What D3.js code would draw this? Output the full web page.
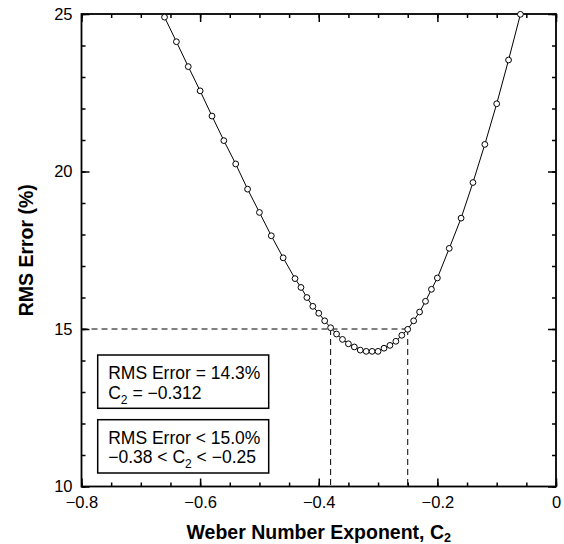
<!DOCTYPE html>
<html><head><meta charset="utf-8">
<script src="https://cdn.jsdelivr.net/npm/d3@7"></script>
<style>
body{margin:0;background:#fff;}
svg text{font-family:"Liberation Sans",Arial,Helvetica,sans-serif;fill:#000;}
</style></head><body>
<svg id="chart" width="564" height="544"></svg>
<script>
// Data
const c2Values = [-0.66,-0.64,-0.62,-0.60,-0.58,-0.56,-0.54,-0.52,-0.50,-0.48,-0.46,-0.44,
  -0.43,-0.42,-0.41,-0.40,-0.39,-0.38,-0.37,-0.36,-0.35,-0.34,-0.33,-0.32,-0.31,-0.30,-0.29,-0.28,-0.27,-0.26,-0.25,-0.24,-0.23,-0.22,-0.21,-0.20,
  -0.18,-0.16,-0.14,-0.12,-0.10,-0.08,-0.06];
const rmsValues = [24.90,24.12,23.33,22.56,21.76,20.98,20.24,19.44,18.70,17.96,17.26,16.60,
  16.32,16.00,15.72,15.50,15.26,15.04,14.84,14.67,14.53,14.43,14.33,14.29,14.29,14.29,14.39,14.48,14.61,14.80,14.99,15.26,15.54,15.88,16.26,16.62,
  17.56,18.52,19.65,20.86,22.15,23.54,24.99];
const xMajorTicks = [-0.8,-0.6,-0.4,-0.2,0];
const xMinorTicks = d3.range(-0.8,0.001,0.05);
const yMajorTicks = [10,15,20,25];
const yMinorTicks = d3.range(10,25.001,1);
const thresholdRms = 15;
const rangeC2 = [-0.38,-0.25];
const boxTexts = [
  ["RMS Error = 14.3%", ["C","2"," = −0.312"]],
  ["RMS Error < 15.0%", ["−0.38 < C","2"," < −0.25"]]
];

const svg = d3.select("#chart");
const L=81.5, R=556, T=14, B=486.5;
const x = d3.scaleLinear().domain([-0.8,0]).range([L,R]);
const y = d3.scaleLinear().domain([10,25]).range([B,T]);

function styleAxis(g){
  g.select(".domain").remove();
  g.selectAll(".tick line").attr("stroke","#000").attr("stroke-width",1.5);
  g.selectAll("text").style("font-size","16.5px").attr("fill","#000");
}
// minor ticks
svg.append("g").attr("transform",`translate(0,${B})`).call(d3.axisBottom(x).tickValues(xMinorTicks).tickSize(-4).tickFormat("")).call(styleAxis);
svg.append("g").attr("transform",`translate(0,${T})`).call(d3.axisTop(x).tickValues(xMinorTicks).tickSize(-4).tickFormat("")).call(styleAxis);
svg.append("g").attr("transform",`translate(${L},0)`).call(d3.axisLeft(y).tickValues(yMinorTicks).tickSize(-4).tickFormat("")).call(styleAxis);
svg.append("g").attr("transform",`translate(${R},0)`).call(d3.axisRight(y).tickValues(yMinorTicks).tickSize(-4).tickFormat("")).call(styleAxis);
// major ticks
const fmtX = d => d===0 ? "0" : d3.format(".1f")(d);
svg.append("g").attr("transform",`translate(0,${B})`).call(d3.axisBottom(x).tickValues(xMajorTicks).tickSize(-8).tickPadding(10).tickFormat(fmtX)).call(styleAxis);
svg.append("g").attr("transform",`translate(0,${T})`).call(d3.axisTop(x).tickValues(xMajorTicks).tickSize(-8).tickFormat("")).call(styleAxis);
svg.append("g").attr("transform",`translate(${L},0)`).call(d3.axisLeft(y).tickValues(yMajorTicks).tickSize(-8).tickPadding(9).tickFormat(d3.format("d"))).call(styleAxis);
svg.append("g").attr("transform",`translate(${R},0)`).call(d3.axisRight(y).tickValues(yMajorTicks).tickSize(-8).tickFormat("")).call(styleAxis);

// frame
svg.append("rect").attr("x",L).attr("y",T).attr("width",R-L).attr("height",B-T)
  .attr("fill","none").attr("stroke","#000").attr("stroke-width",1.8);

// dashed guide lines
const dash = "6,4";
svg.append("line").attr("x1",x(-0.8)).attr("x2",x(rangeC2[1])).attr("y1",y(thresholdRms)).attr("y2",y(thresholdRms))
  .attr("stroke","#000").attr("stroke-width",1).attr("stroke-dasharray",dash);
rangeC2.forEach(c=>{
  svg.append("line").attr("x1",x(c)).attr("x2",x(c)).attr("y1",y(thresholdRms)).attr("y2",y(10))
    .attr("stroke","#000").attr("stroke-width",1).attr("stroke-dasharray",dash);
});

// curve
const pts = c2Values.map((c,i)=>({c, r: rmsValues[i]}));
svg.append("path").datum(pts)
  .attr("d", d3.line().x(d=>x(d.c)).y(d=>y(d.r)))
  .attr("fill","none").attr("stroke","#000").attr("stroke-width",1);
svg.selectAll("circle.pt").data(pts).join("circle").attr("class","pt")
  .attr("cx",d=>x(d.c)).attr("cy",d=>y(d.r)).attr("r",2.9)
  .attr("fill","#fff").attr("stroke","#000").attr("stroke-width",1);

// annotation boxes
const boxTop = [355, 419.7];
boxTexts.forEach((bt,i)=>{
  const g = svg.append("g").attr("transform",`translate(97.7,${boxTop[i]})`);
  g.append("rect").attr("width",171).attr("height",53.3).attr("fill","#fff").attr("stroke","#000").attr("stroke-width",1.5);
  g.append("text").attr("x",10.5).attr("y",24).style("font-size","17.5px").text(bt[0]);
  const t2 = g.append("text").attr("x",10.5).attr("y",43.5).style("font-size","17.5px");
  t2.append("tspan").text(bt[1][0]);
  t2.append("tspan").attr("dy",5).style("font-size","12px").text(bt[1][1]);
  t2.append("tspan").attr("dy",-5).text(bt[1][2]);
});

// axis titles
const xt = svg.append("text").attr("x",(L+R)/2).attr("y",538.5).attr("text-anchor","middle")
  .style("font-size","19.5px").style("font-weight","bold");
xt.append("tspan").text("Weber Number Exponent, C");
xt.append("tspan").attr("dy",3.5).style("font-size","12.5px").text("2");

svg.append("text").attr("transform",`translate(33,${(T+B)/2}) rotate(-90)`).attr("text-anchor","middle")
  .style("font-size","19.5px").style("font-weight","bold").text("RMS Error (%)");
</script>
</body></html>
